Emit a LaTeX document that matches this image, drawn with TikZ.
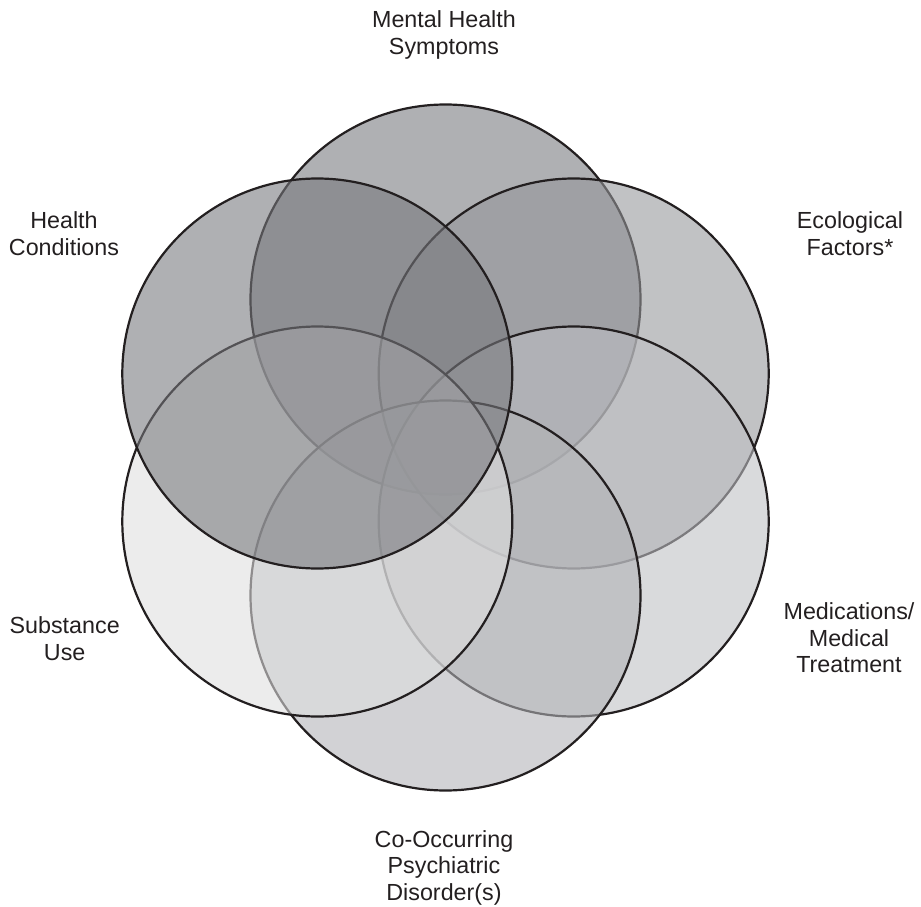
\documentclass[tikz,border=0pt]{standalone}
\usepackage{fontspec}
\setmainfont{Liberation Sans}
\definecolor{ink}{HTML}{231F20}
\definecolor{cMH}{rgb}{0.462,0.468,0.488}
\definecolor{cHC}{rgb}{0.462,0.468,0.488}
\definecolor{cEco}{rgb}{0.583,0.588,0.605}
\definecolor{cMed}{rgb}{0.745,0.750,0.765}
\definecolor{cCO}{rgb}{0.695,0.700,0.715}
\definecolor{cSU}{rgb}{0.870,0.870,0.870}
\tikzset{
  venn/.style={circle, draw=ink, line width=2.2pt, minimum size=390pt, inner sep=0pt, fill opacity=0.58},
  lbl/.style={align=center, anchor=base, inner sep=0pt, text=ink,
    font=\fontsize{23.3pt}{26.4pt}\selectfont}
}
\begin{document}
\begin{tikzpicture}[x=1pt,y=-1pt]
\useasboundingbox (0,0) rectangle (921,907);
% circles, bottom to top
\node[venn, fill=cMH]  (mh)  at (445.5,299.5) {};
\node[venn, fill=cEco] (eco) at (573.7,373.5) {};
\node[venn, fill=cMed] (med) at (573.7,521.5) {};
\node[venn, fill=cCO]  (co)  at (445.5,595.5) {};
\node[venn, fill=cSU]  (su)  at (317.3,521.5) {};
\node[venn, fill=cHC]  (hc)  at (317.3,373.5) {};
% labels (anchored at the baseline of the last line)
\node[lbl] (lmh)  at (444,54.3)  {Mental Health\\Symptoms};
\node[lbl] (lhc)  at (64,255)    {Health\\Conditions};
\node[lbl] (leco) at (850,255)   {Ecological\\Factors*};
\node[lbl] (lmed) at (849,672.7) {Medications/\\Medical\\Treatment};
\node[lbl] (lsu)  at (64.7,660)  {Substance\\Use};
\node[lbl] (lco)  at (444,900)   {Co-Occurring\\Psychiatric\\Disorder(s)};
\end{tikzpicture}
\end{document}
